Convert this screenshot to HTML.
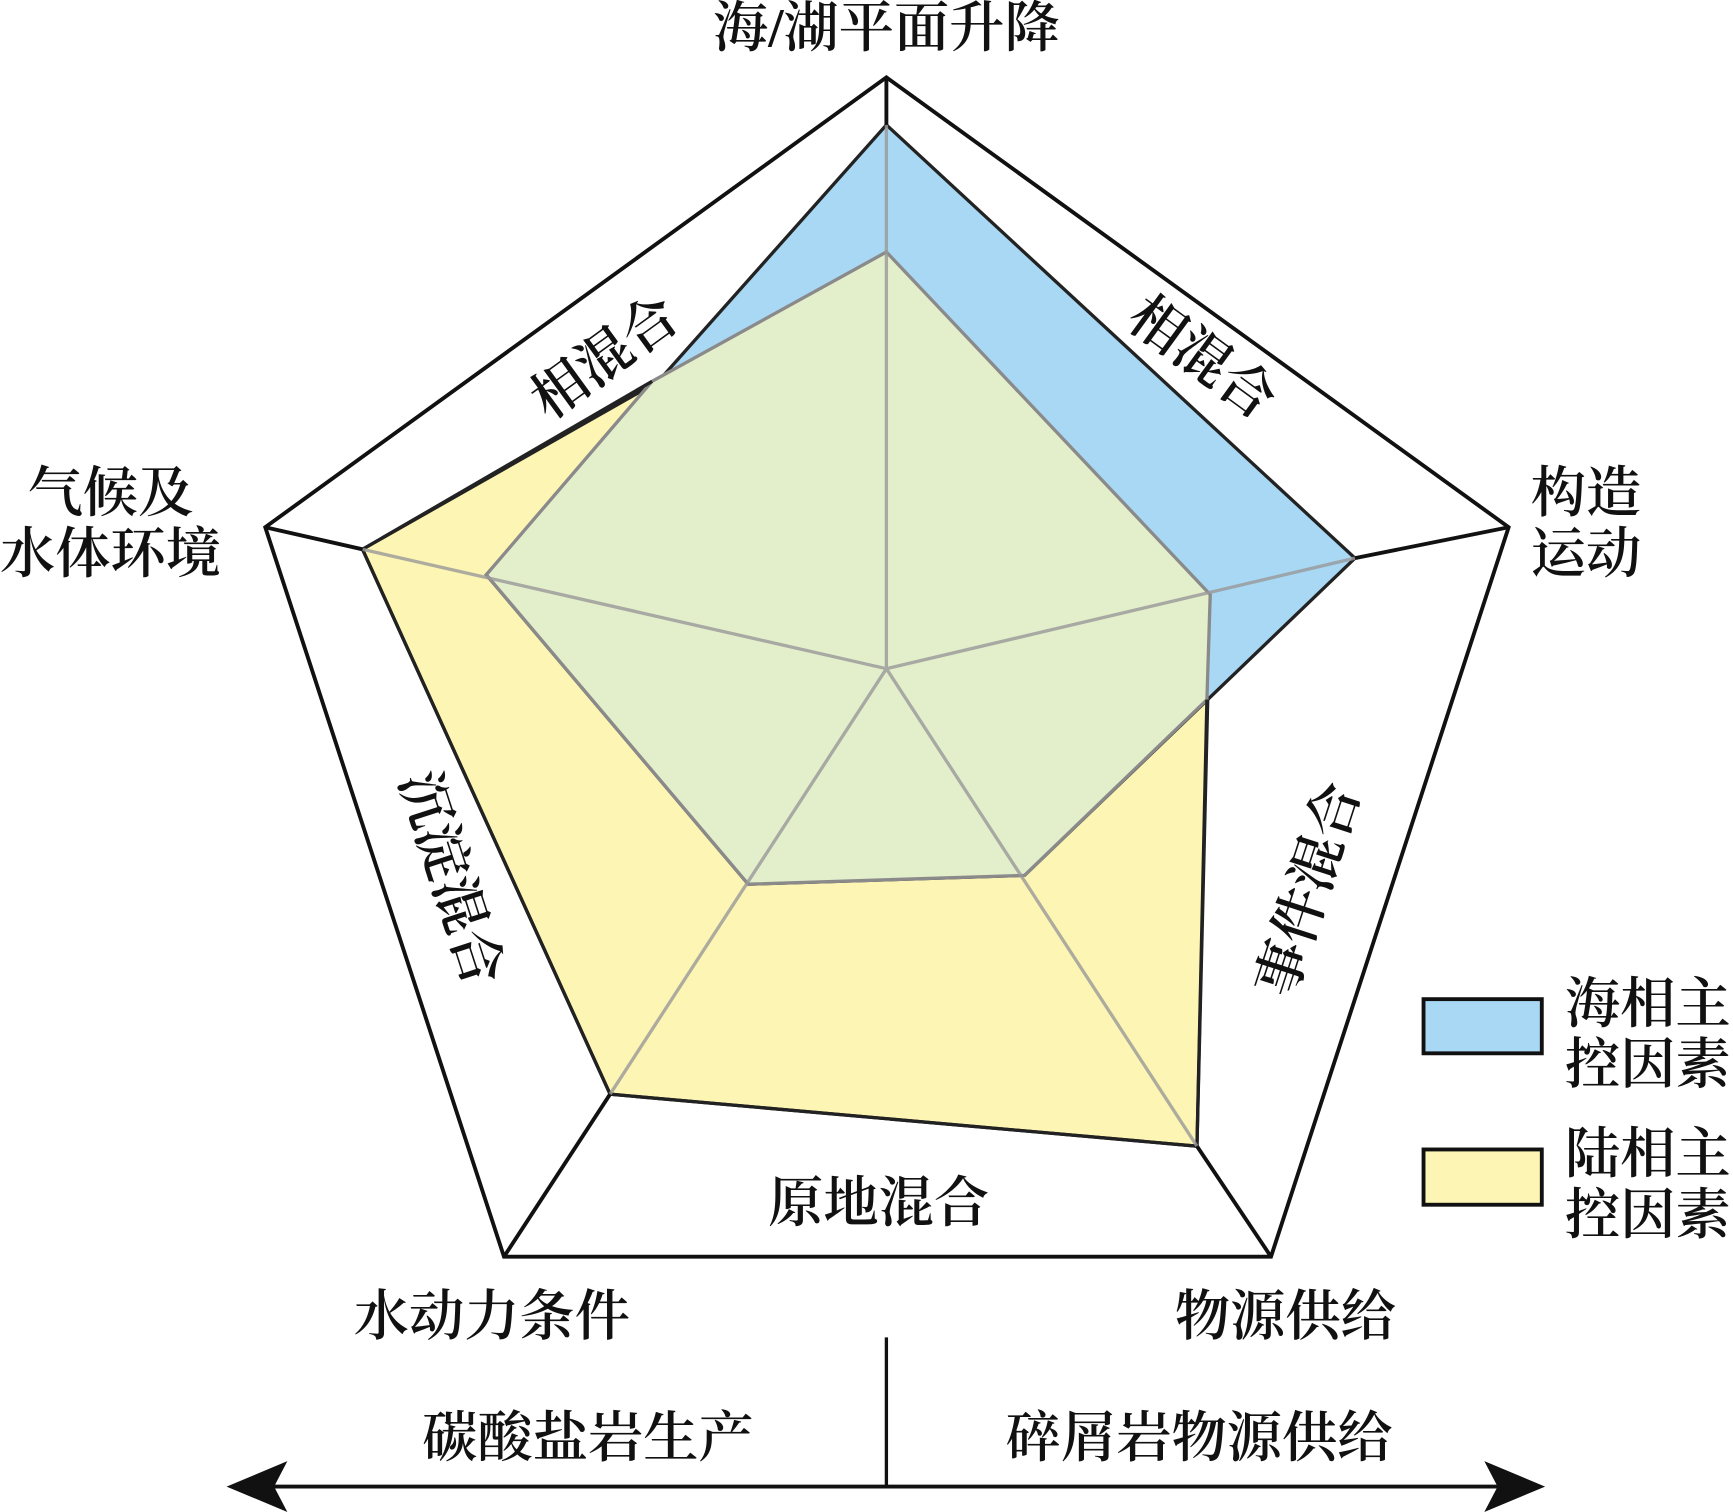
<!DOCTYPE html>
<html><head><meta charset="utf-8"><style>
html,body{margin:0;padding:0;background:#fff;}
svg{display:block;}
text{font-family:"Liberation Serif","Noto Serif CJK SC","Noto Sans CJK SC",serif;font-size:50px;fill:#111;font-weight:600;}
</style></head><body>
<svg width="1733" height="1512" viewBox="0 0 1568 1368" preserveAspectRatio="none">
<rect width="1568" height="1368" fill="#fff"/>
<polygon points="802,70 1365,477 1150,1137 456,1137 240,477" fill="#fff" stroke="#111" stroke-width="3.5"/>
<polygon points="802,228 1095,538 1083,1037 552,990 328,497" fill="#fdf5b4" stroke="#222" stroke-width="3"/>
<polygon points="802,113 1226,505 927,792 677,800 440,520" fill="#a8d8f4" stroke="#222" stroke-width="3"/>
<polygon points="802,228 1095,538 1092,633 927,792 677,800 440,520 590,345" fill="#e3eecb" stroke="#8a8a8a" stroke-width="3"/>
<polyline points="1092,633 1083,1037 552,990 328,497 590,345" fill="none" stroke="#222" stroke-width="3"/>
<g stroke="#999" stroke-width="3" opacity="0.8">
<line x1="802" y1="605" x2="802" y2="113"/>
<line x1="802" y1="605" x2="1226" y2="505"/>
<line x1="802" y1="605" x2="1083" y2="1037"/>
<line x1="802" y1="605" x2="552" y2="990"/>
<line x1="802" y1="605" x2="328" y2="497"/>
</g>
<g stroke="#111" stroke-width="3.5">
<line x1="802" y1="70" x2="802" y2="113"/>
<line x1="1365" y1="477" x2="1226" y2="505"/>
<line x1="1150" y1="1137" x2="1083" y2="1037"/>
<line x1="456" y1="1137" x2="552" y2="990"/>
<line x1="240" y1="477" x2="328" y2="497"/>
</g>
<text x="802" y="42" text-anchor="middle">海/湖平面升降</text>
<text transform="translate(557,337) rotate(-36)" text-anchor="middle">相混合</text>
<text transform="translate(1078,337) rotate(36)" text-anchor="middle">相混合</text>
<text transform="translate(392,800) rotate(72)" text-anchor="middle">沉淀混合</text>
<text transform="translate(1200,810) rotate(-72)" text-anchor="middle">事件混合</text>
<text x="795" y="1105" text-anchor="middle">原地混合</text>
<text x="100" y="463" text-anchor="middle">气候及</text>
<text x="100" y="518" text-anchor="middle">水体环境</text>
<text x="1435" y="463" text-anchor="middle">构造</text>
<text x="1435" y="518" text-anchor="middle">运动</text>
<text x="445" y="1208" text-anchor="middle">水动力条件</text>
<text x="1163" y="1208" text-anchor="middle">物源供给</text>
<rect x="1288" y="904" width="107" height="49" fill="#a8d8f4" stroke="#111" stroke-width="3.5"/>
<rect x="1288" y="1040" width="107" height="50" fill="#fdf5b4" stroke="#111" stroke-width="3.5"/>
<text x="1416" y="925">海相主</text>
<text x="1416" y="980">控因素</text>
<text x="1416" y="1061">陆相主</text>
<text x="1416" y="1116">控因素</text>
<line x1="802" y1="1210" x2="802" y2="1345" stroke="#111" stroke-width="3"/>
<line x1="235" y1="1345" x2="1370" y2="1345" stroke="#111" stroke-width="3.5"/>
<polygon points="205,1345 260,1322 248,1345 260,1368" fill="#111"/>
<polygon points="1398,1345 1343,1322 1355,1345 1343,1368" fill="#111"/>
<text x="532" y="1318" text-anchor="middle">碳酸盐岩生产</text>
<text x="1085" y="1318" text-anchor="middle">碎屑岩物源供给</text>
</svg>
</body></html>
